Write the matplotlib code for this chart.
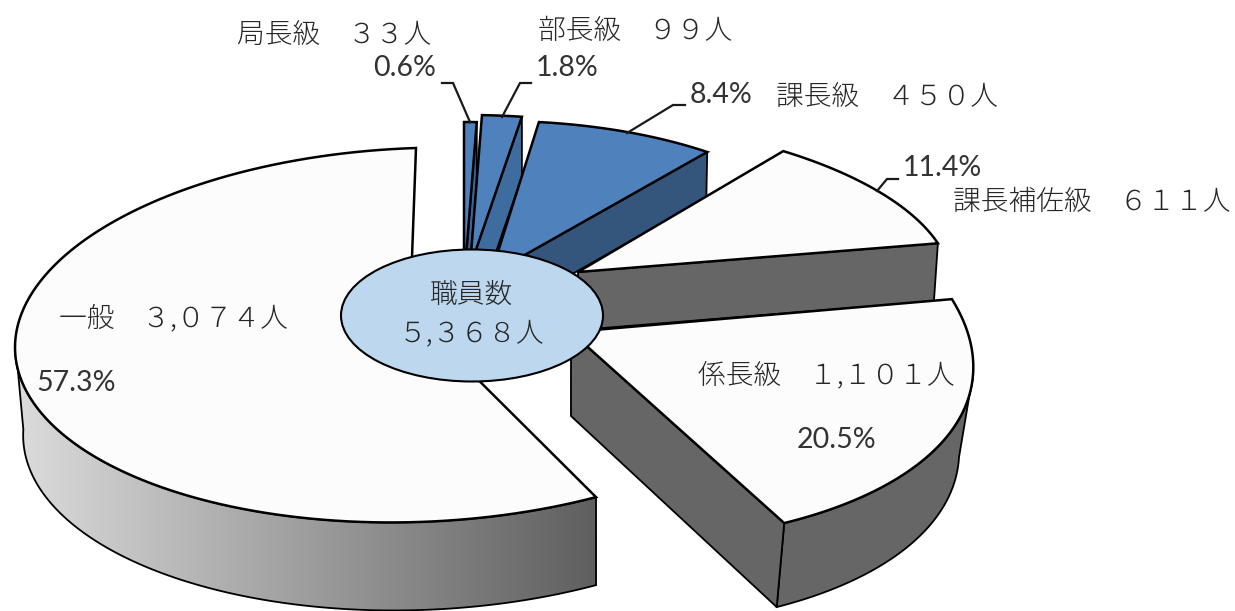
import numpy as np
import matplotlib
matplotlib.use('Agg')
from matplotlib import pyplot as plt
from matplotlib.patches import Polygon, Ellipse

plt.rcParams['font.family'] = ['Noto Sans CJK JP', 'DejaVu Sans']

grades = ['局長級', '部長級', '課長級', '課長補佐級', '係長級', '一般']
staff = [33, 99, 450, 611, 1101, 3074]
total = sum(staff)

W, H = 1235, 611
fig = plt.figure(figsize=(W / 100, H / 100), dpi=100)
ax = fig.add_axes([0, 0, 1, 1])
ax.set_xlim(0, W)
ax.set_ylim(H, 0)
ax.axis('off')

# slice angles, clockwise from 12 o'clock
edges = np.cumsum([0] + staff) / total * 360

# rim centre, radii and shear of each slice on the page, apex of its cuts
# and extrusion depth with the slant of its verticals
layout = {
    '局長級': dict(c=(464, 268), r=(330, 146), s=(0, 0), apex=(464, 282), d=60, k=0, x0=470, top='#4f81bd', side='#3a6596'),
    '部長級': dict(c=(472, 263), r=(346, 148), s=(-3.4, 0), apex=(470, 267), d=60, k=0, x0=500, top='#4f81bd', side='#3f6c9f'),
    '課長級': dict(c=(491, 274), r=(351, 153), s=(-6.2, -5), apex=(491, 274), d=46, k=0.005, x0=530, top='#4f81bd', side='#34557c'),
    '課長補佐級': dict(c=(578, 272), r=(372, 154), s=(-37.3, -2), apex=(578, 272), d=58, k=0.011, x0=578, top='#fcfcfc', side='#666666'),
    '係長級': dict(c=(571, 332), r=(394.5, 211), s=(-43.8, 3.8), apex=(571, 332), d=84, k=0.035, x0=570, b=(8, 1), top='#fcfcfc', side='#666666'),
    '一般': dict(c=(417.4, 335), r=(402.4, 187), s=(-1.4, -13), apex=(410, 312), d=88, k=0.014, x0=597, top='#fcfcfc', side=None),
}


def rim(p, t):
    u = (t - p['span'][0]) / (p['span'][1] - p['span'][0])
    bx, by = p.get('b', (0, 0))
    t = np.radians(t)
    x = p['c'][0] + p['r'][0] * np.sin(t) + p['s'][0] * np.cos(t) + bx * np.sin(np.pi * u)
    y = p['c'][1] - p['r'][1] * np.cos(t) + p['s'][1] * np.sin(t) + by * np.sin(np.pi * u)
    return np.column_stack([x, y])


def drop(p, pts):
    pts = np.atleast_2d(pts).astype(float)
    out = pts.copy()
    out[:, 0] -= p['k'] * (pts[:, 0] - p['x0'])
    out[:, 1] += p['d']
    return out


def draw_slice(name, t0, t1, outer=None, cut=True, lw=1.8):
    p = layout[name]
    p['span'] = (t0, t1)
    apex = np.array([p['apex']], dtype=float)
    arc = rim(p, np.linspace(t0, t1, 120))

    # outer wall
    if outer is not None:
        wall = rim(p, np.linspace(outer[0], outer[1], 120))
        poly = np.vstack([wall, drop(p, wall)[::-1]])
        if p['side'] is None:
            # wall shaded from light on the left to dark on the right
            patch = Polygon(poly, closed=True, facecolor='none', edgecolor='none', zorder=2)
            ax.add_patch(patch)
            grad = np.linspace(0, 1, 256).reshape(1, -1)
            im = ax.imshow(grad, extent=(15, 597, H, 0), aspect='auto', zorder=2,
                           cmap=matplotlib.colors.LinearSegmentedColormap.from_list('wall', ['#dcdcdc', '#5f5f5f']))
            im.set_clip_path(patch)
            ax.add_patch(Polygon(poly, closed=True, facecolor='none', edgecolor='black', lw=1.3, zorder=2))
        else:
            ax.add_patch(Polygon(poly, closed=True, facecolor=p['side'], edgecolor='black', lw=1.3, zorder=2))

    # cut face on the t1 side
    if cut:
        end = arc[-1:]
        quad = np.vstack([apex, end, drop(p, end), drop(p, apex)])
        ax.add_patch(Polygon(quad, closed=True, facecolor=p['side'], edgecolor='black', lw=1.3, zorder=2))

    ax.add_patch(Polygon(np.vstack([apex, arc]), closed=True, facecolor=p['top'],
                         edgecolor='black', lw=lw, joinstyle='miter', zorder=2))


draw_slice('一般', edges[5], edges[6], outer=(edges[5], 272), cut=False)
draw_slice('局長級', edges[0], edges[1])
draw_slice('部長級', edges[1], edges[2])
draw_slice('課長級', edges[2], edges[3])
draw_slice('課長補佐級', edges[3], edges[4])
draw_slice('係長級', edges[4], edges[5], outer=(100, edges[5]))

# hub with the total
ax.add_patch(Ellipse((472, 315.5), 262, 132, facecolor='#bdd7ee', edgecolor='black', lw=1.5, zorder=3))

fullwidth = str.maketrans('0123456789', '０１２３４５６７８９')


def count(v):
    return f'{v:,}'.translate(fullwidth) + '人'


# name label centres
name_pos = [(334, 35), (635, 31), (887, 97), (1092, 202), (826, 375), (173, 318)]
for g, v, (x, y) in zip(grades, staff, name_pos):
    ax.text(x, y, f'{g}　{count(v)}', fontsize=20, color='#262626', ha='center', va='center',
            fontweight='light', zorder=4)

ax.text(472, 295, '職員数', fontsize=20, color='#262626', ha='center', va='center', fontweight='light', zorder=4)
ax.text(472, 333, count(total), fontsize=20, color='#262626', ha='center', va='center', fontweight='light', zorder=4)

# percentage labels
pct_pos = [(405, 68), (567, 68), (721, 95), (942, 168), (836, 440), (76, 383)]
for v, (x, y) in zip(staff, pct_pos):
    ax.text(x, y, f'{v / total * 100:.1f}%', fontsize=20.5, family='Lato', color='#333333',
            ha='center', va='center', zorder=4)

# leader lines
leaders = [
    [(442, 83), (453, 83), (470, 122)],
    [(531, 83), (520, 83), (502, 117)],
    [(685, 105), (673, 105), (627, 133)],
    [(898, 179), (887, 179), (877, 191)],
]
for pts in leaders:
    xs, ys = zip(*pts)
    ax.plot(xs, ys, color='#1a1a1a', lw=1.6, zorder=4, solid_joinstyle='miter')

fig.savefig('out.png', dpi=100)
